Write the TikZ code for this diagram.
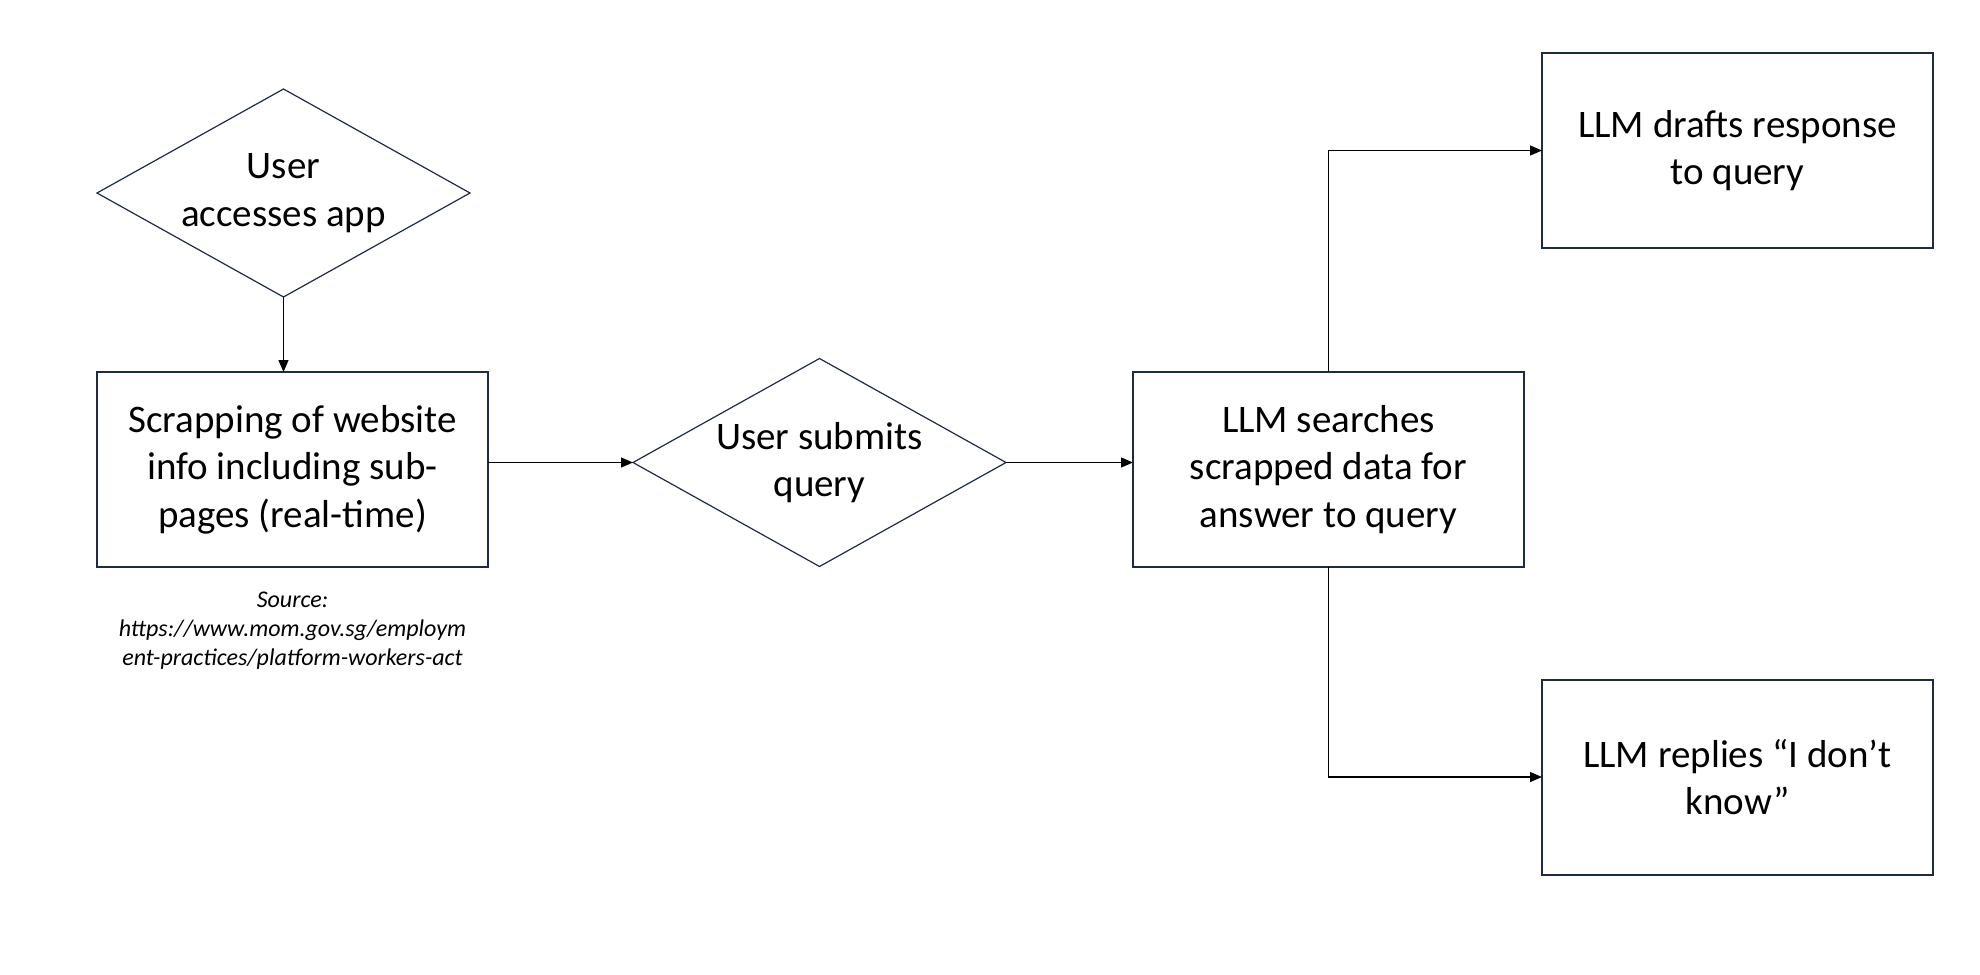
\documentclass[tikz,border=0pt]{standalone}
\usepackage{fontspec}
\setmainfont{Carlito}
\usepackage{tikz}
\usetikzlibrary{
    positioning,                      % right=of, below=of, etc.
    arrows.meta,                      % puntas de flecha
    shapes.geometric                  % diamond
}
\definecolor{box_navy}{RGB}{31,42,68}
\tikzset{
    block/.style={
        rectangle, draw=box_navy, line width=1pt,
        minimum height=97.5pt, minimum width=195.5pt,
        align=center, inner sep=0pt, outer sep=0pt,
        font=\fontsize{19.5pt}{23.75pt}\selectfont
    },
    decision/.style={
        diamond, draw=box_navy, line width=0.6pt, aspect=1.8,
        minimum width=186.5pt, minimum height=104pt,
        align=center, inner sep=0pt, outer sep=0pt,
        font=\fontsize{19.5pt}{23.75pt}\selectfont
    },
    arrow/.style={
        -{Triangle[length=6pt,width=5pt]}, line width=0.6pt
    },
    note/.style={
        align=center, inner sep=0pt,
        font=\fontsize{12pt}{14.4pt}\selectfont\itshape
    }
}

\begin{document}
\begin{tikzpicture}[x=0.5pt, y=-0.5pt]
    \useasboundingbox (0,0) rectangle (1980,974);

    \node[block] (scrape) at (292.5,469.5)
        {Scrapping of website\\info including sub-\\pages (real-time)};
    \node[decision, above=37.5pt of scrape, xshift=-4.5pt] (access)
        {User\\accesses app};
    \node[note, below=12.5pt of scrape] (source)
        {Source:\\https://www.mom.gov.sg/employm\\ent-practices/platform-workers-act};
    \node[decision, right=72.5pt of scrape, yshift=3.5pt] (submit)
        {User submits\\query};
    \node[block, right=63.5pt of submit, yshift=-3.5pt] (search)
        {LLM searches\\scrapped data for\\answer to query};
    \node[block, right=9pt of search, yshift=159.5pt] (draft)
        {LLM drafts response\\to query};
    \node[block, right=9pt of search, yshift=-153.75pt] (unknown)
        {LLM replies “I don’t\\know”};

    % --- Flujo principal ---
    \draw[arrow] (access.south) -- (access.south |- scrape.north);
    \draw[arrow] (scrape.east |- submit.west) -- (submit.west);
    \draw[arrow] (submit.east) -- (submit.east -| search.west);

    % --- Ramas de respuesta ---
    \draw[arrow] (search.north) |- (draft.west);
    \draw[arrow] (search.south) |- (unknown.west);
\end{tikzpicture}
\end{document}
